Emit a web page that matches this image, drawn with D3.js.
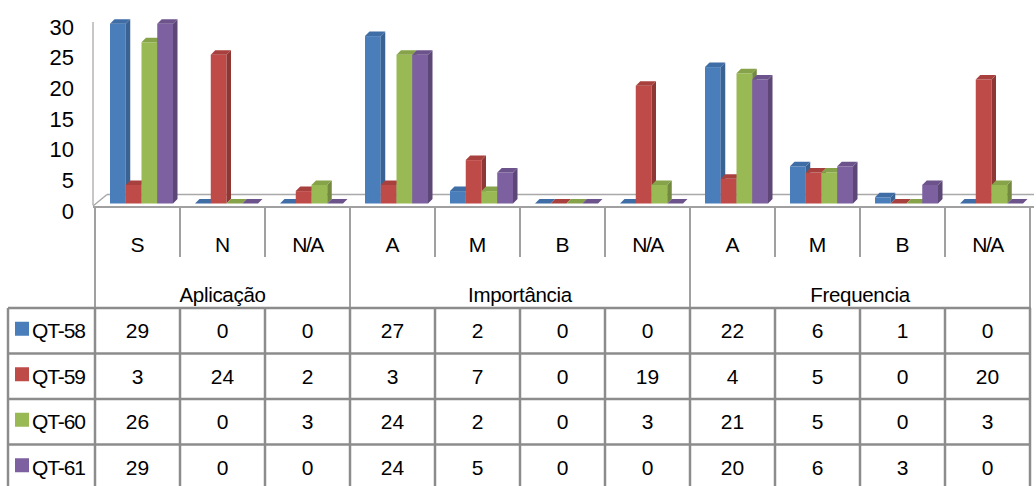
<!DOCTYPE html>
<html>
<head>
<meta charset="utf-8">
<script src="https://cdn.jsdelivr.net/npm/d3@7/dist/d3.min.js"></script>
<style>
  html, body { margin: 0; padding: 0; background: #fff; }
  svg text { font-family: "Liberation Sans", Arial, sans-serif; fill: #000; }
</style>
</head>
<body>
<svg id="chart" width="1036" height="486"></svg>
<script>
// Categories (two-level: answer option within question group)
const categories = ["S", "N", "N/A", "A", "M", "B", "N/A", "A", "M", "B", "N/A"];
const groups = ["Aplicação", "Importância", "Frequencia"];
const groupSizes = [3, 4, 4];

// Series
const seriesNames = ["QT-58", "QT-59", "QT-60", "QT-61"];
const qt58 = [29, 0, 0, 27, 2, 0, 0, 22, 6, 1, 0];
const qt59 = [3, 24, 2, 3, 7, 0, 19, 4, 5, 0, 20];
const qt60 = [26, 0, 3, 24, 2, 0, 3, 21, 5, 0, 3];
const qt61 = [29, 0, 0, 24, 5, 0, 0, 20, 6, 3, 0];
const seriesValues = [qt58, qt59, qt60, qt61];

// Value axis ticks
const yTicks = [0, 5, 10, 15, 20, 25, 30];

// Face colours: front, side, top
const palette = [
  { front: "#4a7ebb", side: "#3a6393", top: "#3f6da6" },
  { front: "#be4b48", side: "#8f3735", top: "#a8413e" },
  { front: "#98b954", side: "#72893f", top: "#86a349" },
  { front: "#7d60a0", side: "#5c4776", top: "#6d538c" }
];

const svg = d3.select("#chart");

// Scales
const x = d3.scaleBand().domain(d3.range(categories.length)).range([95, 1030]);
const xSeries = d3.scaleBand().domain(d3.range(seriesNames.length)).range([15, 78]);
const yBar = d3.scaleLinear().domain([0, 30]).range([203.5, 17.5]);   // front plane of bars
const yWall = d3.scaleLinear().domain([0, 30]).range([211, 27]);      // back wall (axis labels)
const depthX = 4.5, depthY = 4.5;

// Walls / floor outline
const gridColor = "#a9a9a9";
svg.append("line").attr("x1", 93).attr("x2", 93).attr("y1", 22).attr("y2", 205)
  .attr("stroke", "#b4b4b4").attr("stroke-width", 1.5);
svg.append("line").attr("x1", 93).attr("y1", 206).attr("x2", 107).attr("y2", 194.5)
  .attr("stroke", gridColor).attr("stroke-width", 1.5);
svg.append("line").attr("x1", 107).attr("x2", 1034).attr("y1", 194.5).attr("y2", 194.5)
  .attr("stroke", gridColor).attr("stroke-width", 1.5);

// Value axis labels
const yAxis = d3.axisLeft(yWall).tickValues(yTicks).tickSize(0).tickPadding(3);
const yg = svg.append("g").attr("transform", "translate(77,0)").call(yAxis);
yg.select(".domain").remove();
yg.selectAll("text").attr("font-size", 22).attr("font-family", '"Liberation Sans", Arial, sans-serif').attr("fill", "#000");

// 3D columns, painted left to right
const bars = svg.append("g");
categories.forEach((c, ci) => {
  seriesValues.forEach((vals, si) => {
    const v = vals[ci];
    const x0 = x(ci) + xSeries(si);
    const w = xSeries.bandwidth();
    const yT = yBar(v), y0 = yBar(0);
    const col = palette[si];
    const g = bars.append("g");
    g.append("rect").attr("x", x0).attr("y", yT).attr("width", w).attr("height", y0 - yT)
      .attr("fill", col.front);
    g.append("polygon")
      .attr("points", [[x0 + w, yT], [x0 + w + depthX, yT - depthY], [x0 + w + depthX, y0 - depthY], [x0 + w, y0]].join(" "))
      .attr("fill", col.side);
    g.append("polygon")
      .attr("points", [[x0, yT], [x0 + depthX, yT - depthY], [x0 + w + depthX, yT - depthY], [x0 + w, yT]].join(" "))
      .attr("fill", col.top);
  });
});

// Data table
const headColor = "#a0a0a0";
const tableColor = "#8c8c8c";
const catTop = 207, catBottom = 257, tableTop = 308, rowH = 45.5;

svg.append("line").attr("x1", 93).attr("x2", 1034).attr("y1", catTop).attr("y2", catTop)
  .attr("stroke", headColor).attr("stroke-width", 2.2);

// Category labels and separators
const groupEdges = [0];
groupSizes.forEach(s => groupEdges.push(groupEdges[groupEdges.length - 1] + s));
d3.range(categories.length + 1).forEach(i => {
  const xx = i < categories.length ? x(i) : x.range()[1];
  const isGroupEdge = groupEdges.includes(i);
  svg.append("line").attr("x1", xx).attr("x2", xx).attr("y1", catTop)
    .attr("y2", isGroupEdge ? tableTop : catBottom)
    .attr("stroke", headColor).attr("stroke-width", 2);
});
svg.append("g").selectAll("text").data(categories).join("text")
  .attr("x", (d, i) => x(i) + x.bandwidth() / 2)
  .attr("y", 245).attr("dy", "0.35em")
  .attr("text-anchor", "middle").attr("font-size", 21)
  .attr("letter-spacing", d => d === "N/A" ? -1.5 : 0)
  .text(d => d);

// Group labels
groups.forEach((gname, gi) => {
  const a = x(groupEdges[gi]);
  const b = groupEdges[gi + 1] < categories.length ? x(groupEdges[gi + 1]) : x.range()[1];
  svg.append("text").attr("x", (a + b) / 2).attr("y", 295).attr("dy", "0.35em")
    .attr("text-anchor", "middle").attr("font-size", 20.5).attr("letter-spacing", -0.3).text(gname);
});

// Table grid
d3.range(seriesNames.length + 1).forEach(r => {
  const yy = tableTop + r * rowH;
  svg.append("line").attr("x1", 8).attr("x2", 1031).attr("y1", yy).attr("y2", yy)
    .attr("stroke", tableColor).attr("stroke-width", 2.5);
});
[8].concat(d3.range(categories.length).map(i => x(i)), [x.range()[1]]).forEach(xx => {
  svg.append("line").attr("x1", xx).attr("x2", xx).attr("y1", tableTop).attr("y2", 500)
    .attr("stroke", tableColor).attr("stroke-width", 2.5);
});

// Table rows: legend key, series name, values
seriesNames.forEach((name, si) => {
  const cy = tableTop + si * rowH + rowH / 2;
  svg.append("rect").attr("x", 15).attr("y", cy - 9).attr("width", 14).attr("height", 14)
    .attr("fill", palette[si].front);
  svg.append("text").attr("x", 32).attr("y", cy).attr("dy", "0.35em")
    .attr("font-size", 21).attr("letter-spacing", -1.1).text(name);
  svg.append("g").selectAll("text").data(seriesValues[si]).join("text")
    .attr("x", (d, i) => x(i) + x.bandwidth() / 2)
    .attr("y", cy).attr("dy", "0.35em")
    .attr("text-anchor", "middle").attr("font-size", 21)
    .text(d => d);
});
</script>
</body>
</html>
